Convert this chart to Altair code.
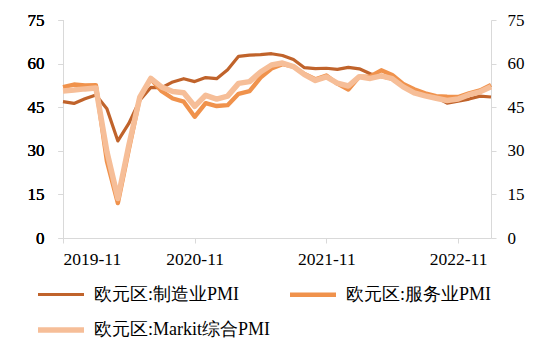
import altair as alt
import pandas as pd

# ---------------- data ----------------
months = [str(p) for p in pd.period_range("2019-11", "2023-02", freq="M")]

manufacturing = [46.9, 46.3, 47.9, 49.2, 44.5, 33.4, 39.4, 47.4, 51.8, 51.7,
                 53.7, 54.8, 53.8, 55.2, 54.8, 57.9, 62.5, 62.9, 63.1, 63.4,
                 62.8, 61.4, 58.6, 58.3, 58.4, 58.0, 58.7, 58.2, 56.5, 55.5,
                 54.6, 52.1, 49.8, 49.6, 48.4, 46.4, 47.1, 47.8, 48.8, 48.5]
services = [51.9, 52.8, 52.5, 52.6, 26.4, 12.0, 30.5, 48.3, 54.7, 50.5,
            48.0, 46.9, 41.7, 46.4, 45.4, 45.7, 49.6, 50.5, 55.2, 58.3,
            59.8, 59.0, 56.4, 54.6, 55.9, 53.1, 51.1, 55.5, 55.6, 57.7,
            56.1, 53.0, 51.2, 49.8, 48.8, 48.6, 48.5, 49.8, 50.8, 52.7]
composite = [50.6, 50.9, 51.3, 51.6, 29.7, 13.6, 31.9, 48.5, 54.9, 51.9,
             50.4, 50.0, 45.3, 49.1, 47.8, 48.8, 53.2, 53.8, 57.1, 59.5,
             60.2, 59.0, 56.2, 54.2, 55.4, 53.3, 52.3, 55.5, 54.9, 55.8,
             54.8, 52.0, 49.9, 48.9, 48.1, 47.3, 47.8, 49.3, 50.3, 52.0]

series_names = ["欧元区:制造业PMI", "欧元区:服务业PMI", "欧元区:Markit综合PMI"]
series_colors = ["#C0632B", "#F0924C", "#F6BE98"]
series_widths = [3.2, 5.5, 3.5]
tick_labels = ["2019-11", "2020-11", "2021-11", "2022-11"]
y_ticks = [0, 15, 30, 45, 60, 75]

rows = []
for name, vals in zip(series_names, [manufacturing, services, composite]):
    for i, (m, v) in enumerate(zip(months, vals)):
        rows.append({"idx": i, "month": m, "series": name, "value": v})
df = pd.DataFrame(rows)

FONT = "Liberation Serif"

label_expr = "[" + ",".join("'%s'" % t for t in tick_labels) + "][round(datum.value/12)]"

x_enc = alt.X(
    "idx:Q",
    scale=alt.Scale(domain=[0, len(months) - 1], nice=False, zero=False),
    axis=alt.Axis(values=[0, 12, 24, 36], labelExpr=label_expr, title=None,
                  labelPadding=7, labelFontSize=17.5, labelFont=FONT,
                  labelColor="#000000"),
)
y_scale = alt.Scale(domain=[0, 75], nice=False)

color_enc = alt.Color(
    "series:N",
    scale=alt.Scale(domain=series_names, range=series_colors),
    legend=alt.Legend(
        title=None, orient="none", legendX=-28, legendY=249, columns=2,
        columnPadding=10, rowPadding=-18, symbolType="stroke", symbolSize=2116,
        labelFontSize=18, labelFont=FONT, labelOffset=7, labelLimit=400,
        labelColor="#000000", direction="horizontal",
    ),
)
sw_enc = alt.StrokeWidth(
    "series:N",
    scale=alt.Scale(domain=series_names, range=series_widths),
)

layers = []
for name in series_names:
    layers.append(
        alt.Chart(df)
        .transform_filter(alt.datum.series == name)
        .mark_line(strokeJoin="round")
        .encode(
            x=x_enc,
            y=alt.Y("value:Q", scale=y_scale,
                    axis=alt.Axis(values=y_ticks, title=None, orient="left",
                                  labelPadding=14, labelFont=FONT,
                                  labelFontSize=17, labelColor="#000000")),
            color=color_enc,
            strokeWidth=sw_enc,
        )
    )

right_axis = (
    alt.Chart(df)
    .mark_line(opacity=0)
    .encode(
        x=x_enc,
        y=alt.Y("value:Q", scale=y_scale,
                axis=alt.Axis(values=y_ticks, title=None, orient="right",
                              labelPadding=11, labelFont=FONT,
                              labelFontSize=17, labelColor="#000000")),
        detail="series:N",
    )
)

chart = (
    alt.layer(*layers, right_axis)
    .resolve_axis(y="independent")
    .properties(
        width=428, height=218,
        autosize=alt.AutoSizeParams(type="none"),
        padding={"left": 63, "top": 20, "right": 59, "bottom": 114},
        background="#FFFFFF",
    )
    .configure_view(stroke=None)
    .configure_axis(
        grid=False, domainColor="#D9D9D9", tickColor="#D9D9D9", tickSize=5,
        labelFont=FONT, labelFontSize=17, labelColor="#000000",
        domainWidth=1, tickWidth=1,
    )
)

chart.save("out.html", embed_options={"renderer": "svg", "actions": False})
